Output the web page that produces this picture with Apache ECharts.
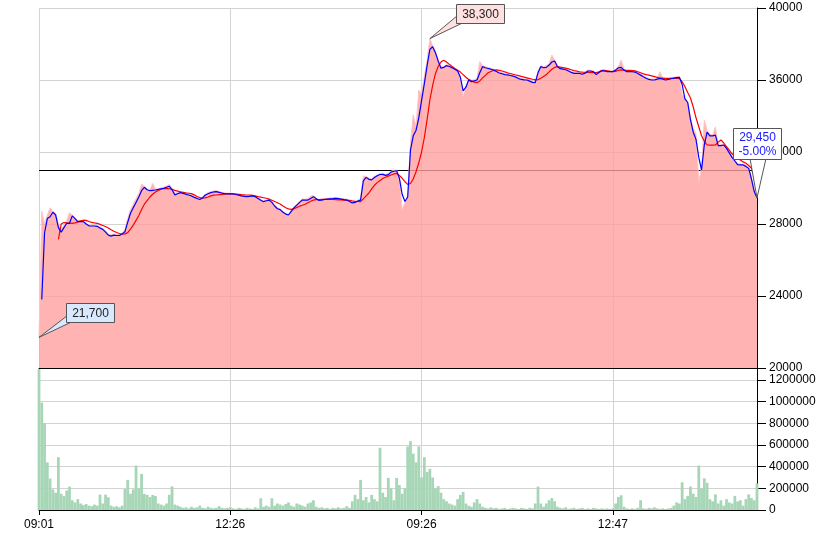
<!DOCTYPE html>
<html><head><meta charset="utf-8">
<script src="https://cdn.jsdelivr.net/npm/echarts@6/dist/echarts.min.js"></script>
<style>html,body{margin:0;padding:0;background:#fff}#c{width:832px;height:538px}</style>
</head><body><div id="c"></div>
<script>
// ---- data ----
const xTickIndex = [0, 69, 138, 207];
const xTickLabel = ['09:01', '12:26', '09:26', '12:47'];
const prevClose = 31000;
const priceMin = 20000, priceMax = 40000, priceStep = 4000;
const volMax = 1310000, volStep = 200000;

// price line (blue)
const blue = ['-',23800,27500,28300,28400,28650,28500,27800,27550,27800,
28040,28040,28450,28300,28130,28130,28130,28000,27900,27890,
27890,27870,27780,27700,27550,27380,27330,27380,27360,27360,
27450,27570,28100,28600,28900,29200,29500,29850,30040,29900,
29850,29870,29890,29920,29960,29980,30040,30100,29900,29620,
29680,29740,29700,29650,29610,29560,29480,29420,29360,29450,
29610,29680,29740,29780,29800,29760,29720,29690,29670,29670,
29670,29640,29600,29560,29530,29520,29540,29560,29520,29420,
29320,29240,29290,29330,29200,29000,28850,28800,28650,28550,
28500,28700,28900,29050,29200,29330,29330,29330,29420,29520,
29400,29310,29330,29360,29380,29400,29410,29430,29410,29380,
29350,29330,29250,29170,29200,29280,29330,30400,30590,30480,
30450,30580,30680,30750,30760,30700,30740,30880,30930,30960,
30550,29650,29250,29500,32100,32900,33200,33900,34850,35800,
36800,37700,37850,37520,37050,36650,36700,36800,36750,36680,
36600,36500,36150,35400,35600,36000,35910,35950,36000,36400,
36740,36680,36640,36600,36550,36470,36390,36350,36300,36280,
36250,36220,36160,36080,36030,36010,36000,35940,35870,35850,
36400,36740,36680,36700,36830,37000,37050,36750,36630,36600,
36570,36500,36420,36370,36370,36370,36320,36380,36500,36500,
36460,36300,36420,36520,36500,36470,36460,36470,36550,36680,
36700,36550,36460,36460,36460,36440,36360,36270,36180,36100,
36030,36000,36000,36050,36090,36050,36000,36030,36070,36100,
36130,36150,35750,34950,34750,33800,33100,32700,31700,31000,
32400,33100,32900,32900,32940,32350,32350,32390,32200,31950,
31700,31500,31300,31280,31280,31200,31090,30500,29800,29450];

// moving average (red)
const red = ['-','-','-','-','-','-','-',27150,28000,28080,
28060,28050,28040,28060,28120,28180,28210,28200,28140,28090,
28060,28040,27980,27920,27860,27780,27680,27600,27530,27470,
27440,27450,27520,27720,27940,28200,28470,28800,29100,29300,
29500,29650,29780,29860,29930,29970,29980,29960,29920,29870,
29830,29790,29760,29730,29710,29690,29620,29530,29470,29440,
29450,29500,29560,29600,29610,29630,29650,29660,29670,29670,
29670,29660,29650,29630,29620,29610,29610,29590,29560,29520,
29490,29460,29430,29380,29320,29250,29180,29110,29000,28900,
28840,28810,28850,28920,28990,29040,29100,29180,29260,29330,
29350,29360,29370,29370,29370,29370,29360,29350,29340,29340,
29330,29330,29310,29280,29260,29250,29240,29400,29560,29720,
29950,30150,30300,30420,30530,30600,30660,30720,30780,30810,
30700,30540,30350,30200,30250,30500,30900,31400,32000,32800,
33800,34900,35700,36350,36750,37000,37100,37000,36870,36750,
36640,36540,36440,36300,36150,36030,35950,35880,35850,35950,
36120,36260,36400,36470,36530,36560,36540,36500,36450,36400,
36360,36320,36280,36240,36200,36160,36120,36080,36040,36010,
36020,36100,36200,36300,36450,36600,36700,36740,36720,36690,
36660,36620,36570,36520,36490,36460,36440,36430,36420,36420,
36410,36410,36450,36520,36530,36510,36480,36460,36480,36540,
36560,36550,36540,36530,36520,36510,36460,36400,36340,36300,
36270,36230,36190,36150,36110,36100,36090,36090,36090,36090,
36090,36090,35900,35630,35300,35000,34500,33900,33400,32900,
32600,32390,32380,32380,32390,32550,32670,32500,32300,32100,
31900,31750,31620,31560,31450,31370,31250,31100,30600,30070];

// tick price (pink area, incl. highs/lows)
const tick = [21700,28700,28000,28500,28900,28700,28600,28000,27700,27900,
28200,28630,28500,28350,28200,28200,28150,28050,27950,27900,
27950,27900,27850,27750,27650,27450,27400,27450,27400,27420,
27500,27700,28300,28800,29100,29400,29700,30220,30100,29950,
29900,30260,29950,29950,30000,30050,30100,30200,29950,29700,
29750,29800,29750,29700,29650,29600,29550,29500,29420,29500,
29650,29750,29800,29850,29850,29800,29750,29720,29720,29700,
29700,29680,29650,29600,29580,29560,29580,29600,29560,29460,
29380,29300,29330,29380,29250,29050,28900,28850,28700,28600,
28550,28800,28950,29100,29250,29400,29380,29400,29550,29580,
29450,29360,29380,29400,29430,29450,29460,29480,29450,29430,
29400,29380,29300,29220,29250,29330,29400,30670,30650,30550,
30500,30650,30720,30800,30800,30750,30800,30930,30980,31000,
30600,28800,29200,29600,32500,34060,33400,35440,35200,36200,
37110,38300,37900,37600,37150,36750,36750,36850,36800,36750,
36650,36550,36200,35100,35650,36050,36000,36000,36100,37020,
36800,36750,36700,36650,36600,36520,36450,36400,36350,36330,
36300,36270,36200,36130,36080,36060,36050,36000,35920,35900,
36500,36800,36750,36800,36900,37390,37100,36800,36700,36650,
36620,36550,36470,36420,36420,36420,36380,36430,36550,36550,
36520,36350,36480,36570,36550,36520,36510,36520,36600,36750,
37110,36600,36510,36510,36510,36490,36410,36320,36230,36150,
36080,36050,36050,36100,36460,36100,36050,36080,36120,36150,
36180,36200,35200,35000,34800,33900,33300,33000,30350,31100,
33780,33200,33000,32950,33400,32400,32400,32450,32250,32000,
31750,31550,31350,31330,31330,31250,31150,30550,29850,29450];

// volume
const volume = [1300000,990000,800000,440000,290000,190000,160000,487000,150000,130000,
180000,216000,90000,70000,100000,60000,45000,55000,40000,35000,
50000,40000,142000,60000,142000,117000,40000,30000,35000,25000,
40000,194000,278000,150000,190000,410000,200000,333000,148000,140000,
120000,139000,130000,60000,50000,40000,60000,141000,218000,50000,
40000,30000,20000,25000,15000,30000,20000,25000,40000,20000,
15000,30000,20000,15000,20000,35000,20000,15000,20000,25000,
15000,10000,20000,15000,10000,20000,15000,10000,25000,15000,
108000,30000,40000,30000,108000,40000,60000,50000,40000,55000,
70000,40000,30000,60000,50000,40000,30000,60000,70000,90000,
30000,20000,25000,15000,20000,10000,20000,15000,25000,15000,
20000,35000,20000,80000,140000,100000,278000,90000,120000,70000,
140000,100000,80000,574000,160000,120000,296000,200000,90000,296000,
230000,150000,200000,586000,635000,520000,440000,586000,300000,487000,
350000,380000,300000,200000,220000,160000,100000,80000,60000,50000,
40000,100000,139000,167000,60000,40000,30000,70000,100000,60000,
30000,20000,15000,25000,15000,20000,10000,15000,20000,10000,
15000,20000,15000,10000,20000,15000,10000,20000,15000,60000,
216000,60000,30000,60000,90000,110000,80000,30000,20000,15000,
25000,10000,15000,20000,10000,15000,20000,10000,15000,10000,
20000,15000,10000,15000,10000,15000,10000,15000,60000,120000,
136000,30000,15000,10000,15000,10000,20000,90000,15000,10000,
20000,15000,25000,15000,10000,15000,10000,15000,20000,40000,
70000,60000,256000,100000,130000,217000,150000,120000,410000,200000,
292000,251000,100000,80000,144000,60000,90000,40000,100000,70000,
60000,130000,80000,90000,40000,100000,144000,110000,90000,245000];

// ---- chart ----
const FONT = 'Liberation Sans';
const cats = tick.map((_, i) => String(i));
const isTick = (i) => xTickIndex.indexOf(i) >= 0;
const grid = '#d3d3d3';
const plain = v => String(v);

const chart = echarts.init(document.getElementById('c'), null, {renderer: 'canvas'});
const option = {
  animation: false,
  textStyle: {fontFamily: FONT},
  grid: [
    {left: 39, right: 75, top: 8, height: 360},
    {left: 39, right: 75, top: 368, height: 142}
  ],
  xAxis: [
    {type: 'category', gridIndex: 0, data: cats, boundaryGap: false,
     axisLine: {lineStyle: {color: '#000'}}, axisTick: {show: false}, axisLabel: {show: false},
     splitLine: {show: true, interval: isTick, lineStyle: {color: grid}}},
    {type: 'category', gridIndex: 1, data: cats, boundaryGap: false,
     axisLine: {lineStyle: {color: '#000'}},
     axisTick: {show: true, interval: isTick, length: 5, lineStyle: {color: '#000'}},
     axisLabel: {show: true, interval: isTick, color: '#000', fontSize: 12, margin: 9, fontFamily: FONT,
       formatter: (v, i) => xTickLabel[xTickIndex.indexOf(i)] || ''},
     splitLine: {show: true, interval: isTick, lineStyle: {color: grid}}}
  ],
  yAxis: [
    {type: 'value', gridIndex: 0, position: 'right', min: priceMin, max: priceMax, interval: priceStep,
     axisLine: {show: true, lineStyle: {color: '#000'}},
     axisTick: {show: true, length: 9, lineStyle: {color: '#000'}},
     axisLabel: {color: '#000', fontSize: 12, margin: 12, fontFamily: FONT, formatter: plain},
     splitLine: {show: true, lineStyle: {color: grid}}},
    {type: 'value', gridIndex: 1, position: 'right', min: 0, max: volMax, interval: volStep,
     axisLine: {show: true, lineStyle: {color: '#000'}},
     axisTick: {show: true, length: 9, lineStyle: {color: '#000'}},
     axisLabel: {color: '#000', fontSize: 12, margin: 12, fontFamily: FONT, showMaxLabel: false, formatter: plain},
     splitLine: {show: true, lineStyle: {color: grid}}}
  ],
  series: [
    {type: 'line', name: 'tick', xAxisIndex: 0, yAxisIndex: 0, data: tick, symbol: 'none', silent: true, z: 2,
     lineStyle: {color: '#ffc4c4', width: 1},
     areaStyle: {color: 'rgba(255,160,160,0.8)', opacity: 1, origin: 'start'},
     markLine: {z: 1, silent: true, symbol: 'none', label: {show: false}, animation: false,
       lineStyle: {color: '#000', width: 1, type: 'solid'}, data: [{yAxis: prevClose}]}},
    {type: 'line', name: 'ma', xAxisIndex: 0, yAxisIndex: 0, data: red, symbol: 'none', silent: true, z: 3,
     lineStyle: {color: '#ff0000', width: 1.2}},
    {type: 'line', name: 'price', xAxisIndex: 0, yAxisIndex: 0, data: blue, symbol: 'none', silent: true, z: 4,
     lineStyle: {color: '#0000ff', width: 1.2}},
    {type: 'bar', name: 'volume', xAxisIndex: 1, yAxisIndex: 1, data: volume, barCategoryGap: '0%', silent: true,
     itemStyle: {color: '#a6d6b6'}}
  ]
};
chart.setOption(option);

// ---- callouts ----
const hi = Math.max(...tick), hiIdx = tick.indexOf(hi);
const lo = Math.min(...tick), loIdx = tick.indexOf(lo);
const lastIdx = blue.length - 1, last = blue[lastIdx];
const pct = ((last - prevClose) / prevClose * 100).toFixed(2) + '%';
const fmt = v => v.toLocaleString('en-US');
const px = (i, v) => chart.convertToPixel({seriesIndex: 0}, [i, v]);

function callout(tip, bx, by, w, h, tri, fill, lines, color) {
  bx = Math.round(bx) + 0.5; by = Math.round(by) + 0.5;
  return [
    {type: 'polygon', z: 100, shape: {points: [tip].concat(tri(bx, by, w, h))},
     style: {fill: fill, stroke: '#555', lineWidth: 1}},
    {type: 'rect', z: 101, shape: {x: bx, y: by, width: w, height: h},
     style: {fill: fill, stroke: '#555', lineWidth: 1}},
    {type: 'text', z: 102, x: bx + w / 2, y: by + h / 2 + 0.5,
     style: {text: lines.join('\n'), fill: color, font: '12px "' + FONT + '"', align: 'center', verticalAlign: 'middle', lineHeight: 14}}
  ];
}
const tH = px(hiIdx, hi), tL = px(loIdx, lo), tC = px(lastIdx, last);
const graphics = [].concat(
  callout(tH, tH[0] + 26, tH[1] - 35, 48, 19, (x, y, w, h) => [[x + 1, y + 11], [x + 7, y + h - 1]], '#ffe0e0', [fmt(hi)], '#222'),
  callout(tL, tL[0] + 27, tL[1] - 34, 48, 19, (x, y, w, h) => [[x + 1, y + 12], [x + 6, y + h - 1]], '#d8e8ff', [fmt(lo)], '#222'),
  callout(tC, tC[0] - 24, tC[1] - 70, 48, 31, (x, y, w, h) => [[tC[0] - 7, y + h - 1], [tC[0] + 9, y + h - 1]], '#ffffff', [fmt(last), pct], '#1a1aff')
);
chart.setOption({graphic: graphics});
</script>
</body></html>
